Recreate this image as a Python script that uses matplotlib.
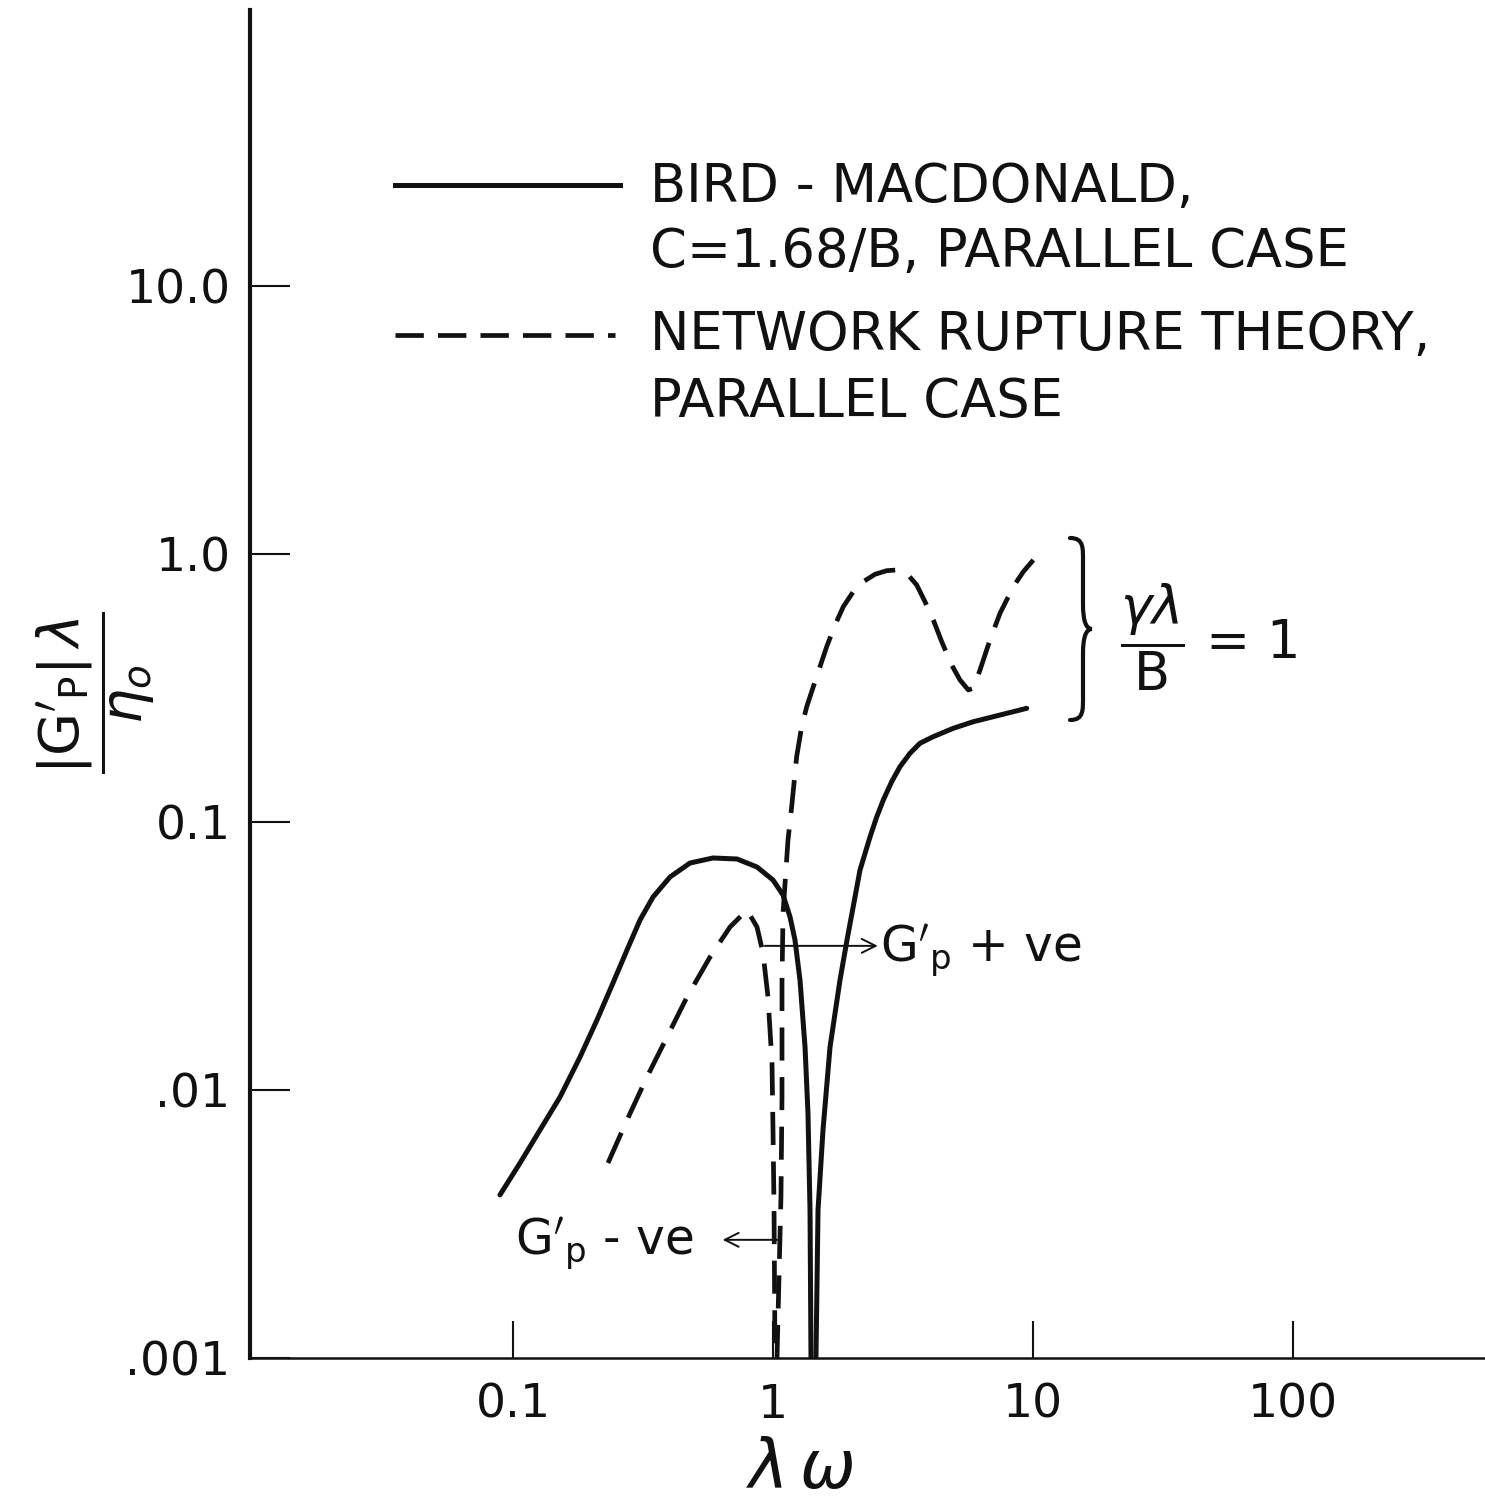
import numpy as np
import matplotlib
matplotlib.use("Agg")
import matplotlib.pyplot as plt
from matplotlib.lines import Line2D
from matplotlib.path import Path
from matplotlib.patches import PathPatch
from matplotlib.ticker import NullLocator

plt.rcParams["font.family"] = ["DejaVu Sans"]
plt.rcParams["mathtext.fontset"] = "dejavusans"

INK = "#111111"

# Bird-Macdonald, C = 1.68/B, parallel case (solid)
bm_left_x = [0.0891, 0.1064, 0.127, 0.1517, 0.181, 0.2104, 0.2424, 0.2745, 0.308, 0.3456,
             0.4017, 0.4796, 0.5877, 0.7271, 0.8679, 1.0, 1.093, 1.163, 1.215, 1.27,
             1.328, 1.363, 1.388, 1.40]
bm_left_y = [0.00406, 0.00534, 0.00709, 0.00942, 0.01327, 0.01825, 0.02508, 0.0333, 0.04309, 0.0525,
             0.06235, 0.07031, 0.0734, 0.07277, 0.06793, 0.06075, 0.0534, 0.04419, 0.03628, 0.02572,
             0.01446, 0.00821, 0.00357, 0.001]
bm_right_x = [1.463, 1.49, 1.557, 1.657, 1.81, 1.926, 2.161, 2.361, 2.505, 2.656,
              2.861, 3.08, 3.365, 3.676, 4.136, 4.937, 5.892, 7.467, 9.458]
bm_right_y = [0.001, 0.00357, 0.00709, 0.01446, 0.02572, 0.03628, 0.0662, 0.0879, 0.1044, 0.1208,
              0.1414, 0.1609, 0.1805, 0.1967, 0.2082, 0.2237, 0.2367, 0.2507, 0.2656]

# Network rupture theory, parallel case (dashed)
nr_left_x = [0.2319, 0.2745, 0.3275, 0.3912, 0.4669, 0.5725, 0.6834, 0.7943, 0.8679, 0.9152,
             0.9567, 0.9912, 1.0, 1.009, 1.018]
nr_left_y = [0.00534, 0.00773, 0.01118, 0.01577, 0.02223, 0.03135, 0.04057, 0.04694, 0.04057, 0.03245,
             0.02223, 0.01261, 0.00709, 0.00366, 0.001]
nr_right_x = [1.036, 1.073, 1.083, 1.083, 1.093, 1.142, 1.18, 1.233, 1.289, 1.348,
              1.429, 1.516, 1.609, 1.732, 1.864, 2.036, 2.225, 2.468, 2.737, 2.991,
              3.268, 3.571, 3.842, 4.136, 4.456, 4.867, 5.239, 5.638, 5.892, 6.255,
              6.831, 7.467, 8.4, 9.178, 10.03]
nr_right_y = [0.001, 0.00399, 0.00942, 0.02572, 0.04574, 0.0857, 0.1141, 0.1753, 0.2268, 0.2693,
              0.3198, 0.3798, 0.451, 0.5433, 0.6362, 0.7236, 0.7884, 0.8401, 0.8665, 0.8716,
              0.847, 0.7661, 0.664, 0.5672, 0.4708, 0.3853, 0.3388, 0.3109, 0.3154, 0.3692,
              0.4777, 0.6009, 0.7553, 0.859, 0.9497]

x_ticks = [0.1, 1, 10, 100]
x_tick_labels = ["0.1", "1", "10", "100"]
y_ticks = [0.001, 0.01, 0.1, 1.0, 10.0]
y_tick_labels = [".001", ".01", "0.1", "1.0", "10.0"]

W, H = 1485, 1503


def fx(px):
    return px / W


def fy(py):
    return (H - py) / H


fig = plt.figure(figsize=(W / 100, H / 100), dpi=100)
ax = fig.add_axes([fx(250), fy(1358), fx(1485) - fx(250), fy(10) - fy(1358)])
ax.set_xscale("log")
ax.set_yscale("log")
ax.set_xlim(10 ** (-1 - 263 / 260), 10 ** (-1 + 972 / 260))
ax.set_ylim(1e-3, 10 ** (-3 + 1348 / 268))

for side in ["top", "right"]:
    ax.spines[side].set_visible(False)
ax.spines["left"].set_linewidth(3.0)
ax.spines["bottom"].set_linewidth(1.8)
ax.spines["left"].set_color(INK)
ax.spines["bottom"].set_color(INK)

ax.xaxis.set_minor_locator(NullLocator())
ax.yaxis.set_minor_locator(NullLocator())
ax.set_xticks(x_ticks, x_tick_labels)
ax.set_yticks(y_ticks, y_tick_labels)
ax.tick_params(axis="both", direction="in", width=1.5, color=INK, labelcolor=INK, labelsize=34)
ax.tick_params(axis="x", length=27, pad=18)
ax.tick_params(axis="y", length=29, pad=14)

# curves
ax.plot(bm_left_x, bm_left_y, color=INK, lw=3.6, solid_capstyle="round")
ax.plot(bm_right_x, bm_right_y, color=INK, lw=3.6, solid_capstyle="round")
dash = (0, (7, 3.5))
ax.plot(nr_left_x, nr_left_y, color=INK, lw=3.4, linestyle=dash)
ax.plot(nr_right_x, nr_right_y, color=INK, lw=3.4, linestyle=dash)

# axis labels
ax.set_xlabel(r"$\lambda\,\omega$", fontsize=48, color=INK)
ax.xaxis.set_label_coords((800 - 250) / 1235, -0.058)
ax.set_ylabel(r"$\dfrac{|\mathrm{G}'_{\mathrm{P}}|\,\lambda}{\eta_o}$", fontsize=40, color=INK)
ax.yaxis.set_label_coords((157 - 250) / 1235, (1358 - 693) / 1348)

# legend (hand-placed like the original drawing)
fig.add_artist(Line2D([fx(395), fx(620)], [fy(185), fy(185)], color=INK, lw=3.6))
fig.add_artist(Line2D([fx(395), fx(615)], [fy(335), fy(335)], color=INK, lw=3.4,
                      linestyle=(0, (6, 3))))
legend_lines = [("BIRD - MACDONALD,", 187),
                ("C=1.68/B, PARALLEL CASE", 252),
                ("NETWORK RUPTURE THEORY,", 335),
                ("PARALLEL CASE", 402)]
for txt, py in legend_lines:
    fig.text(fx(650), fy(py), txt, fontsize=38, color=INK, ha="left", va="center")

# brace for gamma*lambda/B = 1
bx, top, bot, mid = 1070, 538, 720, 629
verts = [(bx, top), (bx + 14, top), (bx + 13, top + 10), (bx + 13, top + 25),
         (bx + 13, mid - 25),
         (bx + 13, mid - 8), (bx + 16, mid), (bx + 22, mid),
         (bx + 16, mid), (bx + 13, mid + 8), (bx + 13, mid + 25),
         (bx + 13, bot - 25),
         (bx + 13, bot - 10), (bx + 14, bot), (bx, bot)]
codes = [Path.MOVETO, Path.CURVE4, Path.CURVE4, Path.CURVE4,
         Path.LINETO,
         Path.CURVE4, Path.CURVE4, Path.CURVE4,
         Path.CURVE4, Path.CURVE4, Path.CURVE4,
         Path.LINETO,
         Path.CURVE4, Path.CURVE4, Path.CURVE4]
brace = Path([(fx(a), fy(b)) for a, b in verts], codes)
fig.add_artist(PathPatch(brace, transform=fig.transFigure, fill=False, lw=3.0,
                         edgecolor=INK, capstyle="round"))
ax.text(21.6, 0.49, r"$\dfrac{\gamma\lambda}{\mathrm{B}}$ = 1", fontsize=38,
        color=INK, ha="left", va="center")

# sign annotations
ax.annotate("", xy=(2.53, 0.0345), xytext=(0.93, 0.0345),
            arrowprops=dict(arrowstyle="->", lw=1.4, color=INK, mutation_scale=25,
                            shrinkA=0, shrinkB=0))
ax.text(2.58, 0.0301, r"$\mathrm{G}'_{\mathrm{p}}$ + ve", fontsize=35, color=INK,
        ha="left", va="baseline")
ax.annotate("", xy=(0.64, 0.00276), xytext=(1.05, 0.00276),
            arrowprops=dict(arrowstyle="->", lw=1.4, color=INK, mutation_scale=25,
                            shrinkA=0, shrinkB=0))
ax.text(0.1018, 0.00242, r"$\mathrm{G}'_{\mathrm{p}}$ - ve", fontsize=35, color=INK,
        ha="left", va="baseline")

fig.savefig("out.png", dpi=100, facecolor="white")
